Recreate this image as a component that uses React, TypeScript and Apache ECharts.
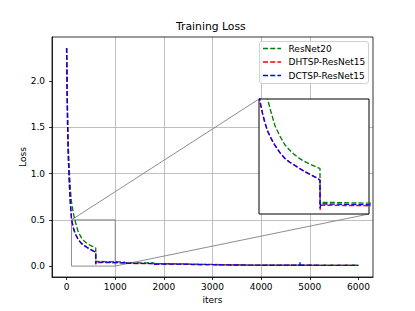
import React, { useEffect, useRef } from 'react';
import * as echarts from 'echarts';

const seriesNames = ['ResNet20', 'DHTSP-ResNet15', 'DCTSP-ResNet15'];
const seriesColors = ['#008000', '#ff0000', '#0000ff'];

const iters = [
  0, 10, 20, 30, 40, 50, 60, 80, 100, 115, 130, 150, 170, 200, 230, 270, 310, 350, 390, 430, 470, 520, 580, 599,
  600, 606, 700, 800, 900, 1000, 1100, 1199, 1200, 1206, 1400, 1600, 1799, 1800, 1806, 2000, 2200, 2399, 2400, 2406,
  2600, 2800, 2999, 3000, 3006, 3200, 3400, 3599, 3600, 3606, 3800, 4000, 4200, 4400, 4600, 4799, 4800, 4806,
  5000, 5200, 5400, 5600, 5800, 6000,
];

const resnet20 = [
  2.36, 2.0, 1.65, 1.4, 1.23, 1.1, 1.0, 0.82, 0.7, 0.645, 0.6, 0.545, 0.5, 0.44, 0.385, 0.34, 0.302, 0.278, 0.258, 0.242, 0.229, 0.216, 0.202, 0.198,
  0.04, 0.05, 0.05, 0.049, 0.048, 0.047, 0.045, 0.043, 0.034, 0.036, 0.035, 0.034, 0.033, 0.025, 0.027, 0.026, 0.025, 0.024, 0.018, 0.021,
  0.02, 0.019, 0.018, 0.014, 0.015, 0.014, 0.013, 0.013, 0.009, 0.011, 0.01, 0.01, 0.01, 0.01, 0.01, 0.01, 0.01, 0.01,
  0.009, 0.009, 0.009, 0.009, 0.009, 0.009,
];

const dhtsp = [
  2.36, 1.94, 1.54, 1.29, 1.11, 0.97, 0.85, 0.655, 0.518, 0.47, 0.433, 0.393, 0.36, 0.326, 0.298, 0.267, 0.242, 0.225, 0.212, 0.198, 0.185, 0.171, 0.154, 0.147,
  0.018, 0.038, 0.038, 0.037, 0.037, 0.036, 0.034, 0.033, 0.026, 0.029, 0.028, 0.027, 0.026, 0.02, 0.023, 0.022, 0.021, 0.02, 0.016, 0.018,
  0.017, 0.016, 0.016, 0.012, 0.014, 0.013, 0.012, 0.012, 0.008, 0.01, 0.01, 0.009, 0.009, 0.009, 0.009, 0.009, 0.01, 0.009,
  0.009, 0.008, 0.008, 0.008, 0.008, 0.008,
];

const dctsp = [
  2.36, 1.95, 1.55, 1.3, 1.12, 0.98, 0.86, 0.66, 0.52, 0.472, 0.435, 0.395, 0.362, 0.328, 0.3, 0.268, 0.243, 0.226, 0.213, 0.199, 0.186, 0.172, 0.155, 0.148,
  0.026, 0.044, 0.043, 0.042, 0.041, 0.04, 0.037, 0.035, 0.024, 0.031, 0.03, 0.029, 0.028, 0.019, 0.024, 0.023, 0.022, 0.021, 0.014, 0.019,
  0.018, 0.017, 0.016, 0.011, 0.014, 0.013, 0.012, 0.012, 0.007, 0.01, 0.01, 0.009, 0.009, 0.009, 0.009, 0.009, 0.042, 0.009,
  0.009, 0.008, 0.008, 0.008, 0.008, 0.008,
];

const xTicks = [0, 1000, 2000, 3000, 4000, 5000, 6000];
const yTicks = [0, 0.5, 1.0, 1.5, 2.0];
const xRange = [-300, 6300];
const yRange = [-0.118, 2.478];
const zoomX = [100, 1000];
const zoomY = [0, 0.5];

const FONT = 'DejaVu Sans';

export default function App() {
  const ref = useRef<HTMLDivElement>(null);
  useEffect(() => {
    if (!ref.current) return;
    const chart = echarts.init(ref.current, undefined, { renderer: 'svg' });
    const values = [resnet20, dhtsp, dctsp];
    const dash = [5, 2.2];
    const mkData = (v: number[]) => iters.map((x, i) => [x, v[i]]);

    const mainSeries = seriesNames.map((name, i) => ({
      name,
      type: 'line',
      xAxisIndex: 0,
      yAxisIndex: 0,
      data: mkData(values[i]),
      showSymbol: false,
      symbol: 'none',
      z: 2,
      lineStyle: { color: seriesColors[i], width: 1.35, type: dash },
    }));
    const insetSeries = seriesNames.map((name, i) => ({
      name: name + ' (zoom)',
      type: 'line',
      xAxisIndex: 1,
      yAxisIndex: 1,
      data: mkData(values[i]),
      showSymbol: false,
      symbol: 'none',
      clip: true,
      z: 4,
      lineStyle: { color: seriesColors[i], width: 1.35, type: dash },
    }));

    const axisText = { fontSize: 9, fontFamily: FONT, color: '#000' };

    chart.setOption({
      animation: false,
      backgroundColor: '#fff',
      title: {
        text: 'Training Loss',
        left: 176,
        top: 21,
        padding: 0,
        textStyle: { fontSize: 10.8, fontWeight: 'normal', fontFamily: FONT, color: '#000' },
      },
      grid: [
        { left: 52, top: 37, width: 321, height: 240, show: true, borderColor: '#000', borderWidth: 0.8, backgroundColor: 'transparent', z: 1 },
        { left: 259, top: 99, width: 110, height: 115, show: true, borderColor: '#000', borderWidth: 1, backgroundColor: '#fff', z: 3 },
      ],
      xAxis: [
        {
          type: 'value',
          gridIndex: 0,
          min: xRange[0],
          max: xRange[1],
          name: 'iters',
          nameLocation: 'middle',
          nameGap: 18,
          nameMoveOverlap: false,
          nameTextStyle: axisText,
          axisLine: { show: true, onZero: false, lineStyle: { color: '#000', width: 0.8 } },
          axisTick: { show: true, length: 3, inside: false, customValues: xTicks, lineStyle: { color: '#000', width: 0.8 } },
          axisLabel: { ...axisText, margin: 5, customValues: xTicks, formatter: (v: number) => String(v) },
          splitLine: { show: true, showMinLine: false, showMaxLine: false, lineStyle: { color: '#b0b0b0', width: 0.8 } },
        },
        {
          type: 'value',
          gridIndex: 1,
          min: zoomX[0],
          max: zoomX[1],
          axisLine: { show: false },
          axisTick: { show: false },
          axisLabel: { show: false },
          splitLine: { show: false },
        },
      ],
      yAxis: [
        {
          type: 'value',
          gridIndex: 0,
          min: yRange[0],
          max: yRange[1],
          name: 'Loss',
          nameLocation: 'middle',
          nameGap: 25,
          nameMoveOverlap: false,
          nameTextStyle: axisText,
          axisLine: { show: true, onZero: false, lineStyle: { color: '#000', width: 0.8 } },
          axisTick: { show: true, length: 3, inside: false, customValues: yTicks, lineStyle: { color: '#000', width: 0.8 } },
          axisLabel: { ...axisText, margin: 7, customValues: yTicks, formatter: (v: number) => v.toFixed(1) },
          splitLine: { show: true, showMinLine: false, showMaxLine: false, lineStyle: { color: '#b0b0b0', width: 0.8 } },
        },
        {
          type: 'value',
          gridIndex: 1,
          min: zoomY[0],
          max: zoomY[1],
          axisLine: { show: false },
          axisTick: { show: false },
          axisLabel: { show: false },
          splitLine: { show: false },
        },
      ],
      series: [...mainSeries, ...insetSeries],
    });

    const p1 = chart.convertToPixel({ xAxisIndex: 0, yAxisIndex: 0 }, [zoomX[0], zoomY[1]]) as number[];
    const p2 = chart.convertToPixel({ xAxisIndex: 0, yAxisIndex: 0 }, [zoomX[1], zoomY[0]]) as number[];
    const q1 = chart.convertToPixel({ xAxisIndex: 1, yAxisIndex: 1 }, [zoomX[0], zoomY[1]]) as number[];
    const q2 = chart.convertToPixel({ xAxisIndex: 1, yAxisIndex: 1 }, [zoomX[1], zoomY[0]]) as number[];

    const gray = { stroke: '#808080', lineWidth: 0.9, fill: 'none' };
    const legendX = 259.5;
    const legendY = 41.5;
    const rowY = [48.5, 62, 75.5];
    const legendEls: any[] = [
      {
        type: 'rect',
        z: 5,
        shape: { x: legendX, y: legendY, width: 109, height: 42, r: 2.5 },
        style: { fill: 'rgba(255,255,255,0.8)', stroke: '#cccccc', lineWidth: 0.9 },
      },
    ];
    seriesNames.forEach((name, i) => {
      legendEls.push({
        type: 'line',
        z: 6,
        shape: { x1: legendX + 3.5, y1: rowY[i], x2: legendX + 21.5, y2: rowY[i] },
        style: { stroke: seriesColors[i], lineWidth: 1.35, lineDash: dash },
      });
      legendEls.push({
        type: 'text',
        z: 6,
        x: legendX + 29,
        y: rowY[i],
        style: { text: name, fontSize: 9, fontFamily: FONT, fill: '#000', verticalAlign: 'middle', align: 'left' },
      });
    });

    chart.setOption({
      graphic: {
        elements: [
          {
            type: 'rect',
            z: 1,
            shape: { x: p1[0], y: p1[1], width: p2[0] - p1[0], height: p2[1] - p1[1] },
            style: gray,
          },
          { type: 'line', z: 1, shape: { x1: p1[0], y1: p1[1], x2: q1[0], y2: q1[1] }, style: gray },
          { type: 'line', z: 1, shape: { x1: p2[0], y1: p2[1], x2: q2[0], y2: q2[1] }, style: gray },
          ...legendEls,
        ],
      },
    });

    return () => chart.dispose();
  }, []);
  return <div ref={ref} style={{ position: 'absolute', left: 0, top: 0, width: 415, height: 311 }} />;
}
